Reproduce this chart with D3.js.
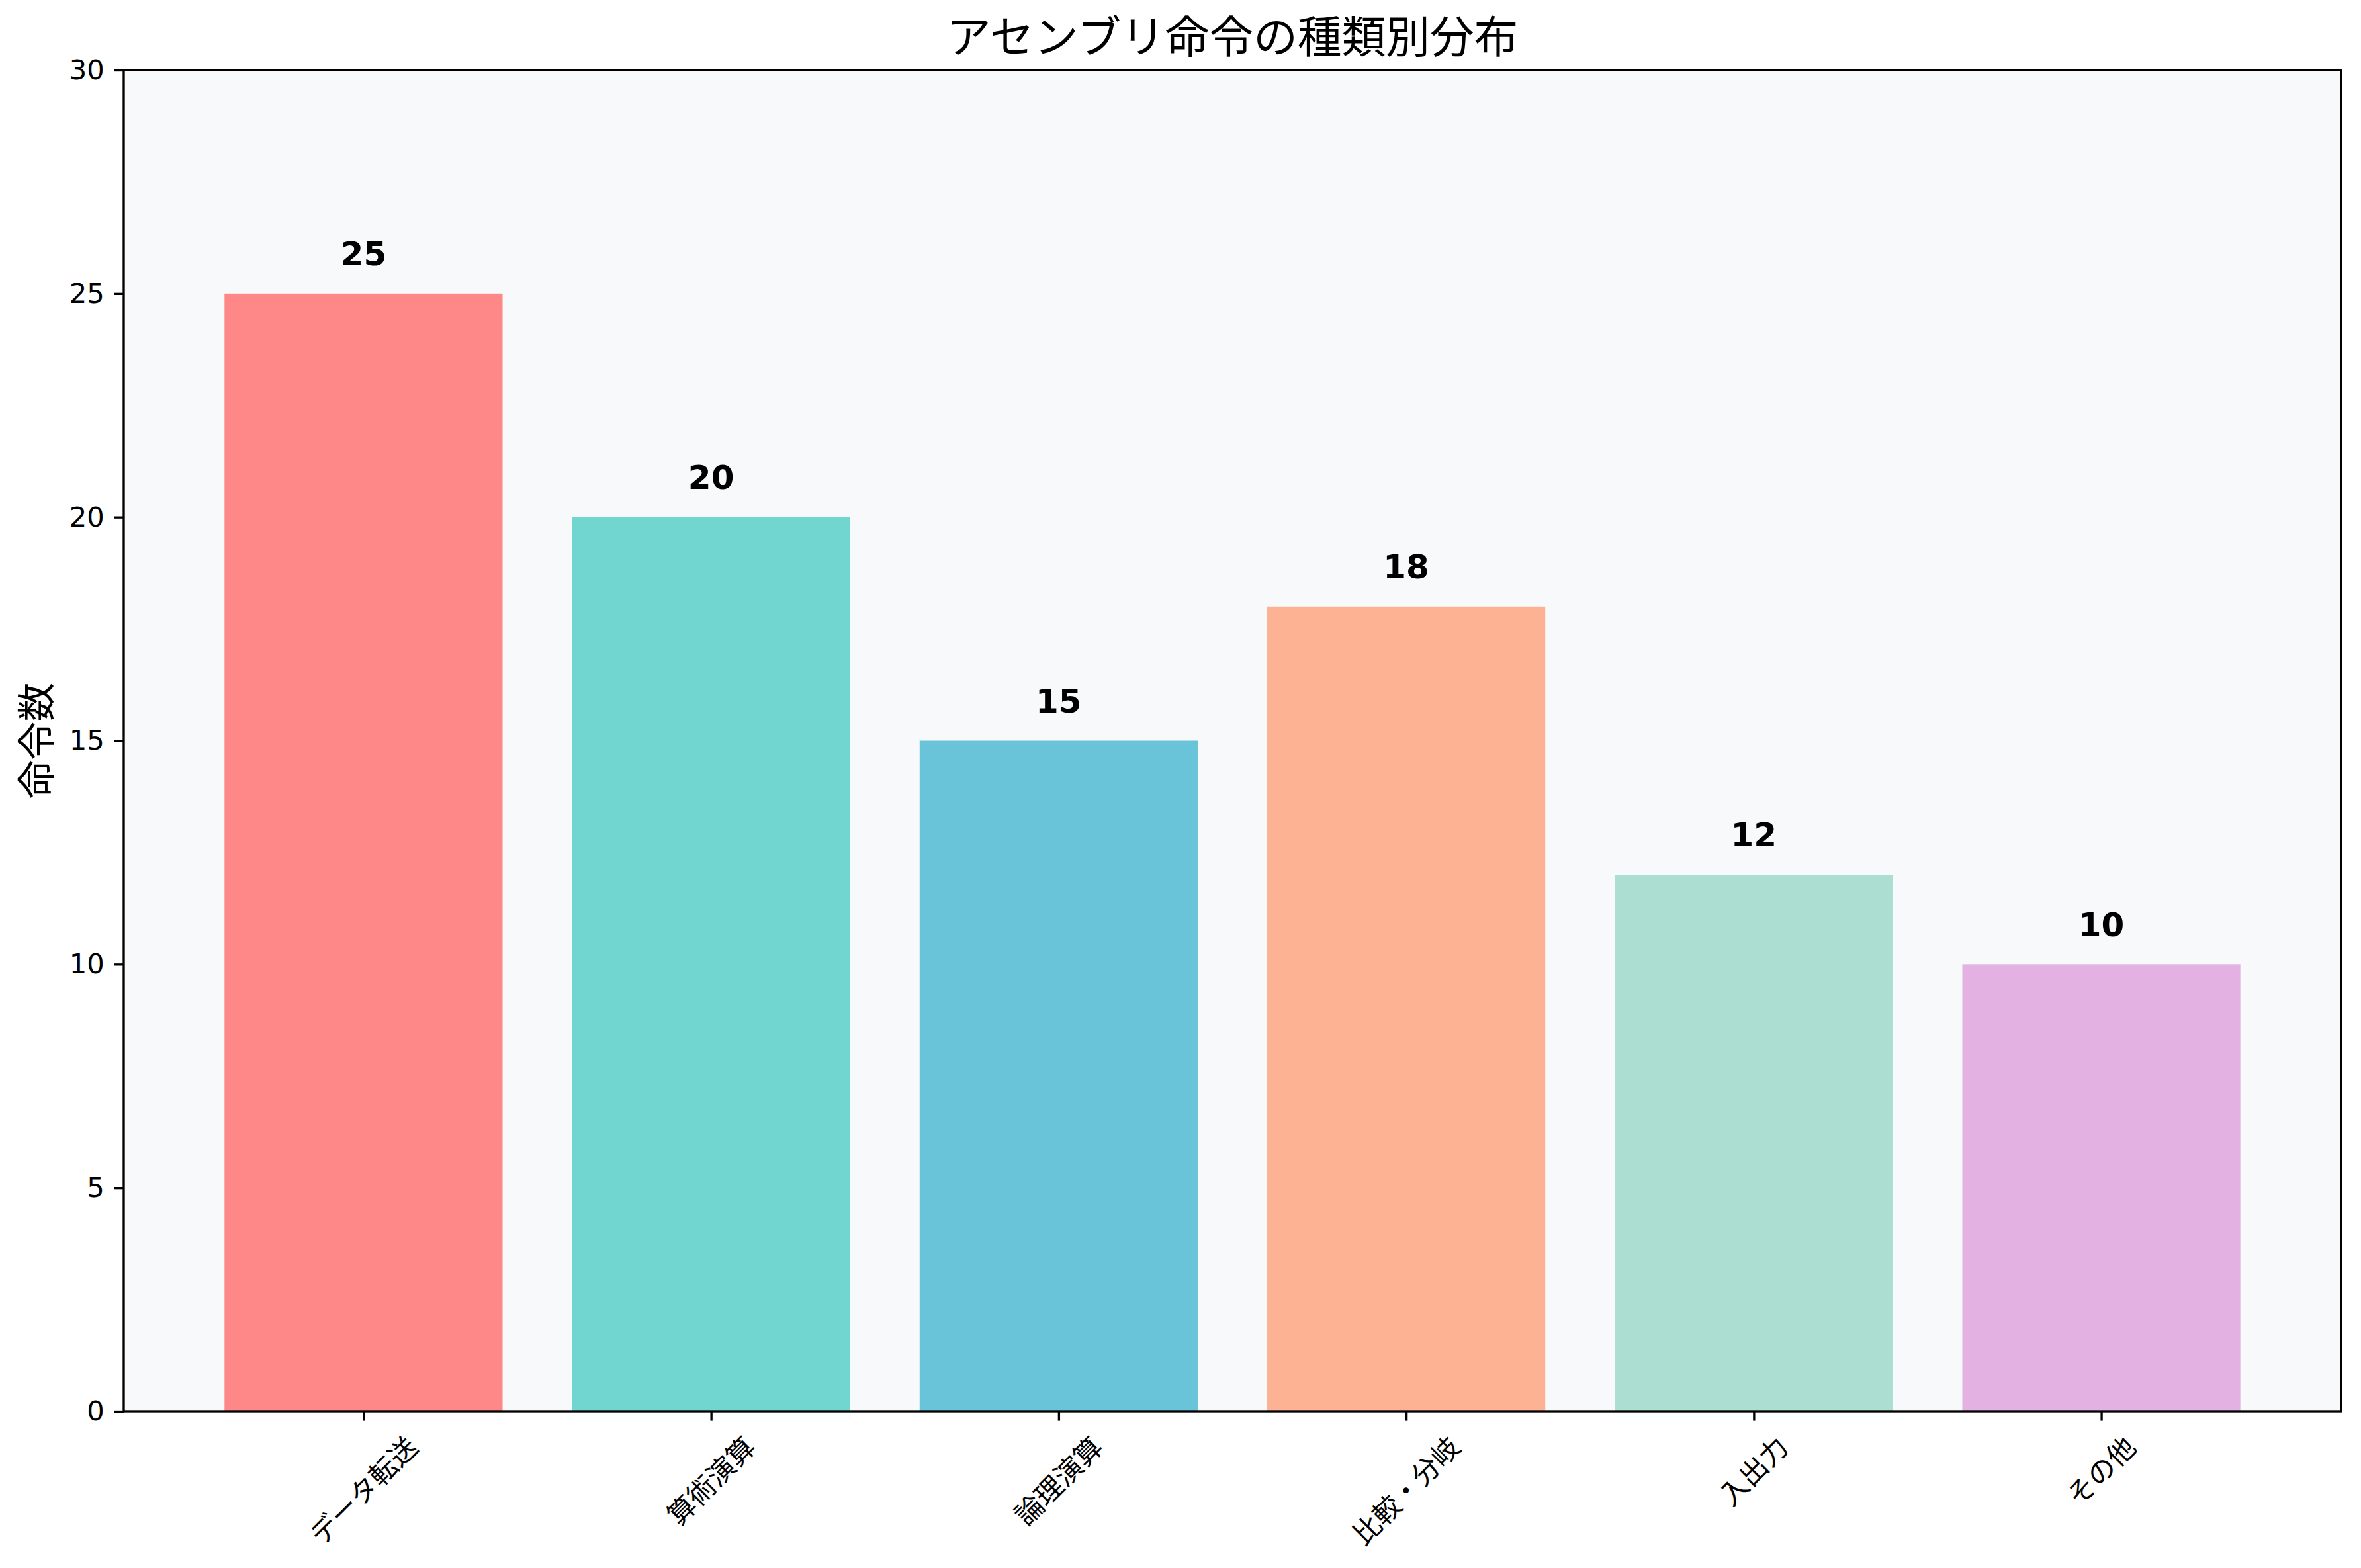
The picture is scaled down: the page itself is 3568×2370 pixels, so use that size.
<!DOCTYPE html>
<html><head><meta charset="utf-8">
<script src="https://cdn.jsdelivr.net/npm/d3@7"></script>
<style>html,body{margin:0;padding:0;background:#fff;} svg{display:block}</style>
</head><body>
<svg id="chart" width="3568" height="2370"></svg>
<script>
const categories = ["データ転送","算術演算","論理演算","比較・分岐","入出力","その他"];
const counts = [25,20,15,18,12,10];
const barColors = ["#FF6B6B","#4ECDC4","#45B7D1","#FFA07A","#98D8C8","#DDA0DD"];
const yTicks = [0,5,10,15,20,25,30];
const titleText = "アセンブリ命令の種類別分布";
const yLabelText = "命令数";

const FONT = "'DejaVu Sans','Noto Sans CJK JP',sans-serif";
const W = 3568, H = 2370;
const m = {left:187, right:3538, top:106, bottom:2133};
const svg = d3.select("#chart").attr("width", W).attr("height", H);
svg.append("rect").attr("width", W).attr("height", H).attr("fill", "#ffffff");

const x = d3.scaleLinear().domain([-0.69, 5.69]).range([m.left, m.right]);
const y = d3.scaleLinear().domain([0, 30]).range([m.bottom, m.top]);

// axes background
svg.append("rect").attr("x", m.left).attr("y", m.top)
  .attr("width", m.right - m.left).attr("height", m.bottom - m.top)
  .attr("fill", "#F8F9FA");

// bars
svg.append("g").selectAll("rect").data(counts).join("rect")
  .attr("x", (d,i) => x(i - 0.4))
  .attr("width", (d,i) => x(i + 0.4) - x(i - 0.4))
  .attr("y", d => y(d))
  .attr("height", d => y(0) - y(d))
  .attr("fill", (d,i) => barColors[i])
  .attr("fill-opacity", 0.8);

// value labels
svg.append("g").selectAll("text").data(counts).join("text")
  .attr("x", (d,i) => x(i))
  .attr("y", d => y(d + 0.5) - 9)
  .attr("text-anchor", "middle")
  .attr("font-family", FONT)
  .attr("font-weight", "bold")
  .attr("font-size", 50)
  .attr("fill", "#000")
  .text(d => d);

const tickLen = 14.6, tickPad = 14.6, lw = 3.33;

// y axis
const yAxis = svg.append("g").attr("transform", `translate(${m.left},0)`)
  .call(d3.axisLeft(y).tickValues(yTicks).tickSize(tickLen).tickPadding(tickPad));
yAxis.select(".domain").remove();
yAxis.selectAll(".tick line").attr("stroke", "#000").attr("stroke-width", lw);
yAxis.selectAll(".tick text").attr("font-family", FONT).attr("font-size", 41.7).attr("fill", "#000");

// x axis
const xAxis = svg.append("g").attr("transform", `translate(0,${m.bottom})`)
  .call(d3.axisBottom(x).tickValues(d3.range(categories.length)).tickFormat(i => categories[i]).tickSize(tickLen).tickPadding(tickPad));
xAxis.select(".domain").remove();
xAxis.selectAll(".tick line").attr("stroke", "#000").attr("stroke-width", lw);
xAxis.selectAll(".tick text")
  .attr("font-family", FONT).attr("font-size", 41.7).attr("fill", "#000")
  .attr("y", null).attr("dy", null)
  .attr("text-anchor", "middle").attr("dominant-baseline", "central")
  .each(function() {
    const L = this.getComputedTextLength();
    const hh = 50;
    const off = (L + hh) / (2 * Math.SQRT2);
    d3.select(this).attr("transform", `translate(0,${tickLen + tickPad + off}) rotate(-45)`);
  });

// spines
svg.append("rect").attr("x", m.left).attr("y", m.top)
  .attr("width", m.right - m.left).attr("height", m.bottom - m.top)
  .attr("fill", "none").attr("stroke", "#000").attr("stroke-width", lw);

// title
svg.append("text").attr("x", (m.left + m.right) / 2).attr("y", 80)
  .attr("text-anchor", "middle").attr("font-family", FONT).attr("font-size", 66.7)
  .attr("fill", "#000").text(titleText);

// y label
svg.append("text").attr("transform", `translate(56,${(m.top + m.bottom) / 2}) rotate(-90)`)
  .attr("text-anchor", "middle").attr("dominant-baseline", "central")
  .attr("font-family", FONT).attr("font-size", 58.3).attr("fill", "#000")
  .text(yLabelText);
</script>
</body></html>
